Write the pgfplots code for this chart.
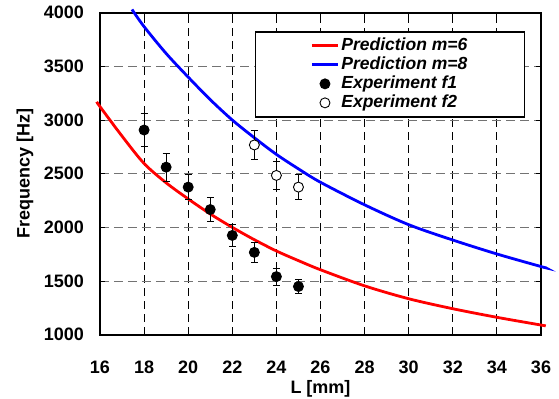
\documentclass[border=0pt]{standalone}
\usepackage{fontspec}
\setmainfont{Liberation Sans}
\usepackage{pgfplots}
\pgfplotsset{compat=1.18}
\begin{document}
\begin{tikzpicture}
\begin{axis}[
  name=ax,
  scale only axis, width=441pt, height=322pt,
  xmin=16, xmax=36, ymin=1000, ymax=4000,
  xtick={16,18,...,36}, ytick={1000,1500,...,4000},
  clip=false,
  axis line style={line width=2pt},
  tick style={black, line width=0.9pt},
  tick align=inside,
  major tick length=5pt,
  grid=major,
  major x grid style={black, line width=0.9pt, dash pattern=on 8pt off 5pt},
  major y grid style={black!55, line width=0.9pt, dash pattern=on 9pt off 5pt},
  /pgf/number format/assume math mode=true,
  /pgf/number format/1000 sep={},
  ticklabel style={font=\fontsize{18}{21}\selectfont\bfseries},
  xticklabel style={anchor=center, yshift=-33pt},
  yticklabel style={anchor=east, inner xsep=0pt, xshift=-16pt},
  xlabel={L [mm]}, ylabel={Frequency [Hz]},
  label style={font=\fontsize{18}{21}\selectfont\bfseries},
  xlabel style={at={(axis description cs:0.5,-0.168)}, anchor=center},
  ylabel style={at={(axis description cs:-0.170,0.5)}, anchor=center},
  legend style={at={(0.964,0.943)}, anchor=north east, draw=black, line width=1.6pt,
    font=\fontsize{17.5}{20}\selectfont\bfseries\itshape,
    inner xsep=55pt, inner ysep=4.5pt,
    nodes={text height=12.5pt, text depth=3.5pt, inner ysep=1.5pt}},
  legend cell align=left,
  legend image code/.code={\draw[mark repeat=2,mark phase=2,#1] plot coordinates {(0pt,0pt) (13pt,0pt) (26pt,0pt)};},
]
\addplot[red, line width=2.8pt, smooth] coordinates {
 (15.85,3170) (16,3125) (17,2850) (18,2595) (19,2415) (20,2265) (21,2125) (22,2000)
 (23,1885) (24,1780) (25,1690) (26,1605) (28,1455) (30,1335) (32,1242) (34,1162) (36,1090) (36.2,1083)};
\addlegendentry{Prediction m=6}
\addplot[blue, line width=2.8pt, smooth] coordinates {
 (17.45,4030) (18,3870) (19,3620) (20,3400) (21,3190) (22,3000) (23,2835) (24,2680)
 (25,2545) (26,2420) (28,2210) (30,2025) (32,1882) (34,1752) (36,1635) (36.2,1625)};
\addlegendentry{Prediction m=8}
\addplot[black, only marks, mark=*, mark size=5pt, mark options={fill=black, line width=0.9pt},
  error bars/.cd, y dir=both, y explicit,
  error bar style={line width=1pt, black},
  error mark options={rotate=90, mark size=3.5pt, line width=1pt, black}]
 table[x=L, y=f, y error=e] {
 L f e
 18 2907 150
 19 2561 130
 20 2375 120
 21 2166 108
 22 1925 100
 23 1767 93
 24 1541 78
 25 1449 68
};
\addlegendentry{Experiment f1}
\addplot[black, only marks, mark=*, mark size=5pt, mark options={fill=white, draw=black, line width=0.9pt},
  error bars/.cd, y dir=both, y explicit,
  error bar style={line width=1pt, black},
  error mark options={rotate=90, mark size=3.5pt, line width=1pt, black}]
 table[x=L, y=f, y error=e] {
 L f e
 23 2768 136
 24 2484 127
 25 2375 116
};
\addlegendentry{Experiment f2}
\end{axis}
\pgfresetboundingbox
\path ([shift={(-100pt,-64pt)}]ax.south west) rectangle ([shift={(18pt,12.7pt)}]ax.north east);
\end{tikzpicture}
\end{document}
